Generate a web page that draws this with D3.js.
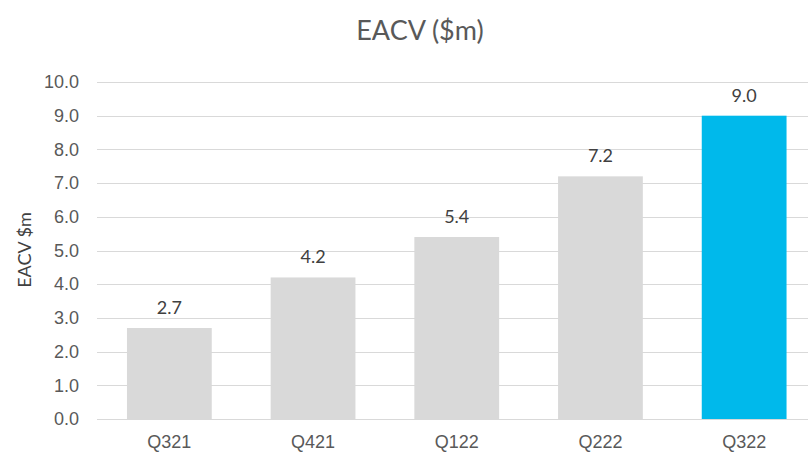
<!DOCTYPE html>
<html>
<head>
<meta charset="utf-8">
<script src="https://cdn.jsdelivr.net/npm/d3@7"></script>
<style>
  body { margin: 0; background: #fff; }
  svg { display: block; font-family: Lato, "Open Sans", sans-serif; }
  .tick text { fill: #595959; font-size: 18px; }
</style>
</head>
<body>
<div id="chart"></div>
<script>
var quarters = ["Q321", "Q421", "Q122", "Q222", "Q322"];
var eacv = [2.7, 4.2, 5.4, 7.2, 9.0];
var yTicks = [0, 1, 2, 3, 4, 5, 6, 7, 8, 9, 10];

var W = 808, H = 454;

var svg = d3.select("#chart").append("svg")
    .attr("width", W)
    .attr("height", H);

var x = d3.scaleBand()
    .domain(quarters)
    .range([97.5, 816])
    .paddingInner(0.41)
    .paddingOuter(0.205);

var y = d3.scaleLinear()
    .domain([0, 10])
    .range([419, 82]);

// gridlines
svg.append("g")
    .selectAll("line")
    .data(yTicks)
    .enter().append("line")
    .attr("x1", 97)
    .attr("x2", W)
    .attr("y1", function (d) { return Math.round(y(d)) + 0.5; })
    .attr("y2", function (d) { return Math.round(y(d)) + 0.5; })
    .attr("stroke", "#d9d9d9")
    .attr("stroke-width", 1);

// y axis labels
var yAxis = svg.append("g")
    .attr("transform", "translate(97,0)")
    .call(d3.axisLeft(y).tickValues(yTicks).tickFormat(d3.format(".1f")).tickSize(0).tickPadding(18));
yAxis.select(".domain").remove();

// bars
svg.selectAll(".bar")
    .data(quarters)
    .enter().append("rect")
    .attr("class", "bar")
    .attr("x", function (d) { return x(d); })
    .attr("width", x.bandwidth())
    .attr("y", function (d, i) { return y(eacv[i]); })
    .attr("height", function (d, i) { return y(0) - y(eacv[i]); })
    .attr("fill", function (d, i) { return i == quarters.length - 1 ? "#00b9eb" : "#d9d9d9"; });

// baseline
svg.append("line")
    .attr("x1", 97).attr("x2", W)
    .attr("y1", 419.5).attr("y2", 419.5)
    .attr("stroke", "#d9d9d9");

// data labels
svg.selectAll(".lbl")
    .data(quarters)
    .enter().append("text")
    .attr("class", "lbl")
    .attr("x", function (d) { return x(d) + x.bandwidth() / 2; })
    .attr("y", function (d, i) { return y(eacv[i]) - 14; })
    .attr("text-anchor", "middle")
    .attr("fill", "#404040")
    .attr("font-size", "18px")
    .text(function (d, i) { return eacv[i].toFixed(1); });

// x axis labels
var xAxis = svg.append("g")
    .attr("transform", "translate(0,419)")
    .call(d3.axisBottom(x).tickSize(0).tickPadding(16));
xAxis.select(".domain").remove();

// title
svg.append("text")
    .attr("x", 420)
    .attr("y", 40)
    .attr("text-anchor", "middle")
    .attr("fill", "#595959")
    .attr("font-size", "27px")
    .text("EACV ($m)");

// y axis title
svg.append("text")
    .attr("transform", "translate(31,250) rotate(-90)")
    .attr("text-anchor", "middle")
    .attr("fill", "#404040")
    .attr("font-size", "18px")
    .text("EACV $m");
</script>
</body>
</html>
